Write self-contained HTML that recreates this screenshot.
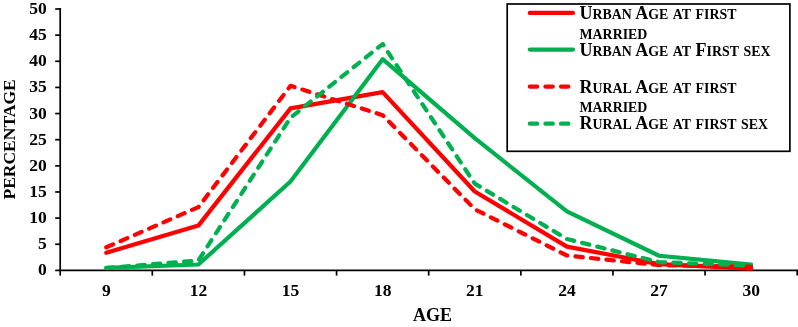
<!DOCTYPE html><html><head><meta charset="utf-8"><style>html,body{margin:0;padding:0;background:#fff;}svg{display:block;will-change:transform;}</style></head><body>
<svg width="798" height="327" viewBox="0 0 798 327">
<rect width="798" height="327" fill="#fff"/>
<g stroke="#000" stroke-width="1.7" fill="none" shape-rendering="auto">
<line x1="60.2" y1="8.1" x2="60.2" y2="270.4"/>
<line x1="59.300000000000004" y1="270.4" x2="798.1" y2="270.4"/>
<line x1="55.2" y1="270.40" x2="60.2" y2="270.40"/>
<line x1="55.2" y1="244.26" x2="60.2" y2="244.26"/>
<line x1="55.2" y1="218.12" x2="60.2" y2="218.12"/>
<line x1="55.2" y1="191.98" x2="60.2" y2="191.98"/>
<line x1="55.2" y1="165.84" x2="60.2" y2="165.84"/>
<line x1="55.2" y1="139.70" x2="60.2" y2="139.70"/>
<line x1="55.2" y1="113.56" x2="60.2" y2="113.56"/>
<line x1="55.2" y1="87.42" x2="60.2" y2="87.42"/>
<line x1="55.2" y1="61.28" x2="60.2" y2="61.28"/>
<line x1="55.2" y1="35.14" x2="60.2" y2="35.14"/>
<line x1="55.2" y1="9.00" x2="60.2" y2="9.00"/>
<line x1="60.20" y1="270.4" x2="60.20" y2="275.6"/>
<line x1="152.32" y1="270.4" x2="152.32" y2="275.6"/>
<line x1="244.45" y1="270.4" x2="244.45" y2="275.6"/>
<line x1="336.57" y1="270.4" x2="336.57" y2="275.6"/>
<line x1="428.70" y1="270.4" x2="428.70" y2="275.6"/>
<line x1="520.83" y1="270.4" x2="520.83" y2="275.6"/>
<line x1="612.95" y1="270.4" x2="612.95" y2="275.6"/>
<line x1="705.08" y1="270.4" x2="705.08" y2="275.6"/>
<line x1="797.20" y1="270.4" x2="797.20" y2="275.6"/>
</g>
<g font-family="Liberation Serif" font-weight="bold" font-size="18" fill="#000" text-anchor="end">
<text x="46.8" y="275.40" font-size="17.5" transform="translate(0 269.70) scale(1 1.0) translate(0 -269.70)">0</text>
<text x="46.8" y="249.26" font-size="17.5" transform="translate(0 243.56) scale(1 1.0) translate(0 -243.56)">5</text>
<text x="46.8" y="223.12" font-size="17.5" transform="translate(0 217.42) scale(1 1.0) translate(0 -217.42)">10</text>
<text x="46.8" y="196.98" font-size="17.5" transform="translate(0 191.28) scale(1 1.0) translate(0 -191.28)">15</text>
<text x="46.8" y="170.84" font-size="17.5" transform="translate(0 165.14) scale(1 1.0) translate(0 -165.14)">20</text>
<text x="46.8" y="144.70" font-size="17.5" transform="translate(0 139.00) scale(1 1.0) translate(0 -139.00)">25</text>
<text x="46.8" y="118.56" font-size="17.5" transform="translate(0 112.86) scale(1 1.0) translate(0 -112.86)">30</text>
<text x="46.8" y="92.42" font-size="17.5" transform="translate(0 86.72) scale(1 1.0) translate(0 -86.72)">35</text>
<text x="46.8" y="66.28" font-size="17.5" transform="translate(0 60.58) scale(1 1.0) translate(0 -60.58)">40</text>
<text x="46.8" y="40.14" font-size="17.5" transform="translate(0 34.44) scale(1 1.0) translate(0 -34.44)">45</text>
<text x="46.8" y="14.00" font-size="17.5" transform="translate(0 8.30) scale(1 1.0) translate(0 -8.30)">50</text>
</g>
<g font-family="Liberation Serif" font-weight="bold" font-size="18" fill="#000" text-anchor="middle">
<text x="106.26" y="295.90" font-size="17.5" transform="translate(0 290.20) scale(1 1.0) translate(0 -290.20)">9</text>
<text x="198.39" y="295.90" font-size="17.5" transform="translate(0 290.20) scale(1 1.0) translate(0 -290.20)">12</text>
<text x="290.51" y="295.90" font-size="17.5" transform="translate(0 290.20) scale(1 1.0) translate(0 -290.20)">15</text>
<text x="382.64" y="295.90" font-size="17.5" transform="translate(0 290.20) scale(1 1.0) translate(0 -290.20)">18</text>
<text x="474.76" y="295.90" font-size="17.5" transform="translate(0 290.20) scale(1 1.0) translate(0 -290.20)">21</text>
<text x="566.89" y="295.90" font-size="17.5" transform="translate(0 290.20) scale(1 1.0) translate(0 -290.20)">24</text>
<text x="659.01" y="295.90" font-size="17.5" transform="translate(0 290.20) scale(1 1.0) translate(0 -290.20)">27</text>
<text x="751.14" y="295.90" font-size="17.5" transform="translate(0 290.20) scale(1 1.0) translate(0 -290.20)">30</text>
</g>
<text font-family="Liberation Serif" font-weight="bold" font-size="18" x="432.4" y="321.3" text-anchor="middle">AGE</text>
<text font-family="Liberation Serif" font-weight="bold" font-size="17.5" transform="translate(14.8,139.4) rotate(-90)" text-anchor="middle">PERCENTAGE</text>
<g fill="none" stroke-width="4.2" stroke-linecap="round" stroke-linejoin="round">
<polyline points="106.26,252.78 198.39,225.60 290.51,108.33 382.64,92.13 474.76,191.46 566.89,246.61 659.01,264.13 751.14,268.57" stroke="#ff0000"/>
<polyline points="106.26,267.79 198.39,264.49 290.51,181.52 382.64,59.19 474.76,138.13 566.89,211.48 659.01,255.76 751.14,264.65" stroke="#00b050"/>
<polyline points="106.26,247.29 198.39,207.14 290.51,85.85 382.64,115.13 474.76,209.23 566.89,255.50 659.01,265.17 751.14,266.74" stroke="#ff0000" stroke-dasharray="7.4 8.2"/>
<polyline points="106.26,268.05 198.39,260.47 290.51,117.74 382.64,44.03 474.76,183.62 566.89,239.03 659.01,262.04 751.14,265.69" stroke="#00b050" stroke-dasharray="7.4 8.2"/>
</g>
<rect x="507.2" y="4" width="282.7" height="147.3" fill="#fff" stroke="#000" stroke-width="1.7"/>
<line x1="529.8" y1="12.9" x2="573" y2="12.9" stroke="#ff0000" stroke-width="4.2" stroke-linecap="round"/>
<line x1="529.8" y1="49.6" x2="573" y2="49.6" stroke="#00b050" stroke-width="4.2" stroke-linecap="round"/>
<line x1="529.8" y1="86.6" x2="573" y2="86.6" stroke="#ff0000" stroke-width="4.2" stroke-linecap="round" stroke-dasharray="7.4 8.2"/>
<line x1="529.8" y1="123.7" x2="573" y2="123.7" stroke="#00b050" stroke-width="4.2" stroke-linecap="round" stroke-dasharray="7.4 8.2"/>
<g font-family="Liberation Serif" font-weight="bold" font-size="18" fill="#000" xml:space="preserve">
<text x="579.5" y="19.0">U<tspan font-size="13.86">R</tspan><tspan font-size="13.86">B</tspan><tspan font-size="13.86">A</tspan><tspan font-size="13.86">N</tspan> A<tspan font-size="13.86">G</tspan><tspan font-size="13.86">E</tspan> <tspan font-size="13.86">A</tspan><tspan font-size="13.86">T</tspan> <tspan font-size="13.86">F</tspan><tspan font-size="13.86">I</tspan><tspan font-size="13.86">R</tspan><tspan font-size="13.86">S</tspan><tspan font-size="13.86">T</tspan></text>
<text x="579.5" y="38.5"><tspan font-size="13.86">M</tspan><tspan font-size="13.86">A</tspan><tspan font-size="13.86">R</tspan><tspan font-size="13.86">R</tspan><tspan font-size="13.86">I</tspan><tspan font-size="13.86">E</tspan><tspan font-size="13.86">D</tspan></text>
<text x="579.5" y="55.8">U<tspan font-size="13.86">R</tspan><tspan font-size="13.86">B</tspan><tspan font-size="13.86">A</tspan><tspan font-size="13.86">N</tspan> A<tspan font-size="13.86">G</tspan><tspan font-size="13.86">E</tspan> <tspan font-size="13.86">A</tspan><tspan font-size="13.86">T</tspan> F<tspan font-size="13.86">I</tspan><tspan font-size="13.86">R</tspan><tspan font-size="13.86">S</tspan><tspan font-size="13.86">T</tspan> <tspan font-size="13.86">S</tspan><tspan font-size="13.86">E</tspan><tspan font-size="13.86">X</tspan></text>
<text x="579.5" y="92.9">R<tspan font-size="13.86">U</tspan><tspan font-size="13.86">R</tspan><tspan font-size="13.86">A</tspan><tspan font-size="13.86">L</tspan> A<tspan font-size="13.86">G</tspan><tspan font-size="13.86">E</tspan> <tspan font-size="13.86">A</tspan><tspan font-size="13.86">T</tspan> <tspan font-size="13.86">F</tspan><tspan font-size="13.86">I</tspan><tspan font-size="13.86">R</tspan><tspan font-size="13.86">S</tspan><tspan font-size="13.86">T</tspan></text>
<text x="579.5" y="112.2"><tspan font-size="13.86">M</tspan><tspan font-size="13.86">A</tspan><tspan font-size="13.86">R</tspan><tspan font-size="13.86">R</tspan><tspan font-size="13.86">I</tspan><tspan font-size="13.86">E</tspan><tspan font-size="13.86">D</tspan></text>
<text x="579.5" y="129.4">R<tspan font-size="13.86">U</tspan><tspan font-size="13.86">R</tspan><tspan font-size="13.86">A</tspan><tspan font-size="13.86">L</tspan> A<tspan font-size="13.86">G</tspan><tspan font-size="13.86">E</tspan> <tspan font-size="13.86">A</tspan><tspan font-size="13.86">T</tspan> <tspan font-size="13.86">F</tspan><tspan font-size="13.86">I</tspan><tspan font-size="13.86">R</tspan><tspan font-size="13.86">S</tspan><tspan font-size="13.86">T</tspan> <tspan font-size="13.86">S</tspan><tspan font-size="13.86">E</tspan><tspan font-size="13.86">X</tspan></text>
</g>
</svg></body></html>
